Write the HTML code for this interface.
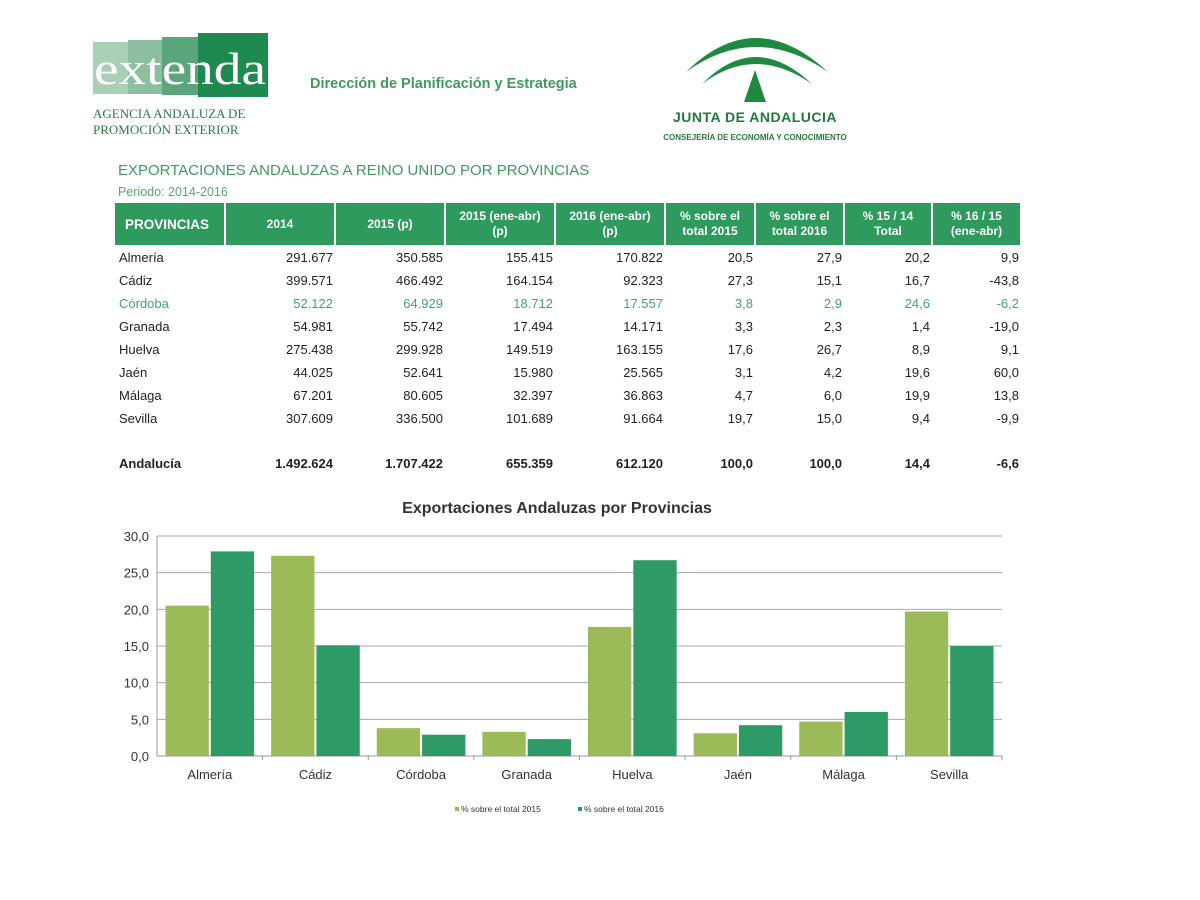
<!DOCTYPE html>
<html><head><meta charset="utf-8">
<style>
body{margin:0;background:#fff;font-family:"Liberation Sans",sans-serif;}
#page{position:relative;width:1200px;height:900px;overflow:hidden;background:#fff;}
.abs{position:absolute;}
.cell{position:absolute;font-size:13px;color:#222;white-space:nowrap;}
.hd{position:absolute;background:#2e9a5e;color:#fff;font-weight:bold;font-size:12px;text-align:center;display:flex;align-items:center;justify-content:center;line-height:15px;border-right:2px solid #fff;box-sizing:border-box;}
</style></head><body>
<div id="page">
  <svg class="abs" style="left:90px;top:30px" width="185" height="110">
    <rect x="3" y="12" width="45" height="52" fill="#a9cfb6"/>
    <rect x="38" y="10" width="45" height="54" fill="#8cbf9f"/>
    <rect x="72" y="7" width="45" height="58" fill="#5aa67a"/>
    <rect x="108" y="3" width="70" height="64" fill="#1f8a50"/>
    <text x="4" y="54" font-family="Liberation Serif" font-size="46" fill="#fff" textLength="172" lengthAdjust="spacingAndGlyphs">extenda</text>
    <text x="3" y="88" font-family="Liberation Serif" font-size="13" fill="#2a7a4a">AGENCIA ANDALUZA DE</text>
    <text x="3" y="104" font-family="Liberation Serif" font-size="13" fill="#2a7a4a">PROMOCIÓN EXTERIOR</text>
  </svg>
  <div class="abs" style="left:310px;top:76px;font-size:14.5px;font-weight:bold;color:#3f9a5f">Dirección de Planificación y Estrategia</div>
  <svg class="abs" style="left:650px;top:22px" width="220" height="125">
    <path d="M36 50 Q105 -18 178 50 Q105 0 36 50Z" fill="#1f8a3f"/>
    <path d="M52 62 Q105 8 162 62 Q105 22 52 62Z" fill="#1f8a3f"/>
    <path d="M105 48 L94 80 L116 80Z" fill="#1f8a3f"/>
    <text x="105" y="100" text-anchor="middle" font-family="Liberation Sans" font-weight="bold" font-size="14" fill="#1f7a3a" letter-spacing="0.5">JUNTA DE ANDALUCIA</text>
    <text x="105" y="118" text-anchor="middle" font-family="Liberation Sans" font-weight="bold" font-size="8" fill="#2a7a3a">CONSEJERÍA DE ECONOMÍA Y CONOCIMIENTO</text>
  </svg>
  <div class="abs" style="left:118px;top:162px;font-size:15px;color:#3f9a5f">EXPORTACIONES ANDALUZAS A REINO UNIDO POR PROVINCIAS</div>
  <div class="abs" style="left:118px;top:185px;font-size:12.5px;color:#5aa670">Periodo: 2014-2016</div>
  <div id="table"></div>
  <svg id="chart" class="abs" style="left:0;top:0" width="1200" height="900"></svg>
</div>
<script>
const headers = ["PROVINCIAS","2014","2015 (p)","2015 (ene-abr)<br>(p)","2016 (ene-abr)<br>(p)","% sobre el<br>total 2015","% sobre el<br>total 2016","% 15 / 14<br>Total","% 16 / 15<br>(ene-abr)"];
const rowNames = ["Almería","Cádiz","Córdoba","Granada","Huelva","Jaén","Málaga","Sevilla"];
const rowVals = [
 ["291.677","350.585","155.415","170.822","20,5","27,9","20,2","9,9"],
 ["399.571","466.492","164.154","92.323","27,3","15,1","16,7","-43,8"],
 ["52.122","64.929","18.712","17.557","3,8","2,9","24,6","-6,2"],
 ["54.981","55.742","17.494","14.171","3,3","2,3","1,4","-19,0"],
 ["275.438","299.928","149.519","163.155","17,6","26,7","8,9","9,1"],
 ["44.025","52.641","15.980","25.565","3,1","4,2","19,6","60,0"],
 ["67.201","80.605","32.397","36.863","4,7","6,0","19,9","13,8"],
 ["307.609","336.500","101.689","91.664","19,7","15,0","9,4","-9,9"]];
const totalName = "Andalucía";
const totalVals = ["1.492.624","1.707.422","655.359","612.120","100,0","100,0","14,4","-6,6"];
const colEdges = [115,226,336,446,556,666,756,845,933,1022];

const tbl = document.getElementById('table');
headers.forEach((h,i)=>{
  const d=document.createElement('div');
  d.className='hd';
  
  
  d.style.left=colEdges[i]+'px';d.style.top='203px';
  d.style.width=(colEdges[i+1]-colEdges[i])+'px';d.style.height='42px';
  if(i==0){d.style.justifyContent='flex-start';d.style.paddingLeft='10px';d.style.fontSize='13.5px';}
  d.innerHTML=h;tbl.appendChild(d);
});
function addRow(name,vals,y,color,bold){
  const n=document.createElement('div');
  n.className='cell';
  
  
  n.style.left='119px';n.style.top=y+'px';n.style.color=color;if(bold)n.style.fontWeight='bold';
  n.textContent=name;tbl.appendChild(n);
  vals.forEach((v,j)=>{
    const c=document.createElement('div');
    c.className='cell';
    
    
    c.style.right=(1200-colEdges[j+2]+3)+'px';c.style.top=y+'px';c.style.color=color;if(bold)c.style.fontWeight='bold';
    c.textContent=v;tbl.appendChild(c);
  });
}
rowNames.forEach((r,i)=>addRow(r,rowVals[i],250+i*23,r==="Córdoba"?"#3fa56e":"#222",false));
addRow(totalName,totalVals,456,"#222",true);

const categories = ["Almería","Cádiz","Córdoba","Granada","Huelva","Jaén","Málaga","Sevilla"];
const series2015 = [20.5,27.3,3.8,3.3,17.6,3.1,4.7,19.7];
const series2016 = [27.9,15.1,2.9,2.3,26.7,4.2,6.0,15.0];
const yTicks = [0,5,10,15,20,25,30];
const yTickLabels = ["0,0","5,0","10,0","15,0","20,0","25,0","30,0"];
const seriesNames = ["% sobre el total 2015","% sobre el total 2016"];

const svg=document.getElementById('chart');const NS='http://www.w3.org/2000/svg';
const X0=157,X1=1002,Y0=756,Y1=536,YMAX=30;
const y=v=>Y0-(v/YMAX)*(Y0-Y1);
const catW=(X1-X0)/categories.length;
const x=i=>X0+i*catW;
function el(t,a,txt){const e=document.createElementNS(NS,t);for(const k in a)e.setAttribute(k,a[k]);if(txt!==undefined)e.textContent=txt;svg.appendChild(e);return e;}
const title=el('text',{x:557,y:513,'text-anchor':'middle','font-size':16,'font-weight':'bold',fill:'#333','font-family':'Liberation Sans'},'Exportaciones Andaluzas por Provincias');


yTicks.forEach((t,i)=>{
  const g=el('line',{x1:X0,x2:X1,y1:y(t),y2:y(t),stroke:t==0?'#999':'#aaa','stroke-width':1});
  
  
  const l=el('text',{x:X0-8,y:y(t)+5,'text-anchor':'end','font-size':13,fill:'#333','font-family':'Liberation Sans'},yTickLabels[i]);
  
  
});
el('line',{x1:X0,x2:X0,y1:Y1,y2:Y0,stroke:'#999'});
const bw=catW*0.41,gap=2;
categories.forEach((c,i)=>{
  const cx=x(i)+catW/2;
  const b1=el('rect',{x:cx-bw-gap/2,y:y(series2015[i]),width:bw,height:Y0-y(series2015[i]),fill:'#9bbb59'});
  
  
  const b2=el('rect',{x:cx+gap/2,y:y(series2016[i]),width:bw,height:Y0-y(series2016[i]),fill:'#2e9a65'});
  
  
  el('line',{x1:x(i+1),x2:x(i+1),y1:Y0,y2:Y0+4,stroke:'#999'});
  const t=el('text',{x:cx,y:Y0+23,'text-anchor':'middle','font-size':13,fill:'#333','font-family':'Liberation Sans'},c);
  
  
});
[[455,'#9bbb59'],[578,'#2e9a65']].forEach((p,i)=>{
  const r=el('rect',{x:p[0],y:807,width:4,height:4,fill:p[1]});
  
  
  const t=el('text',{x:p[0]+6,y:812,'font-size':8.5,fill:'#333','font-family':'Liberation Sans'},seriesNames[i]);
  
  
});
</script>
</body></html>
